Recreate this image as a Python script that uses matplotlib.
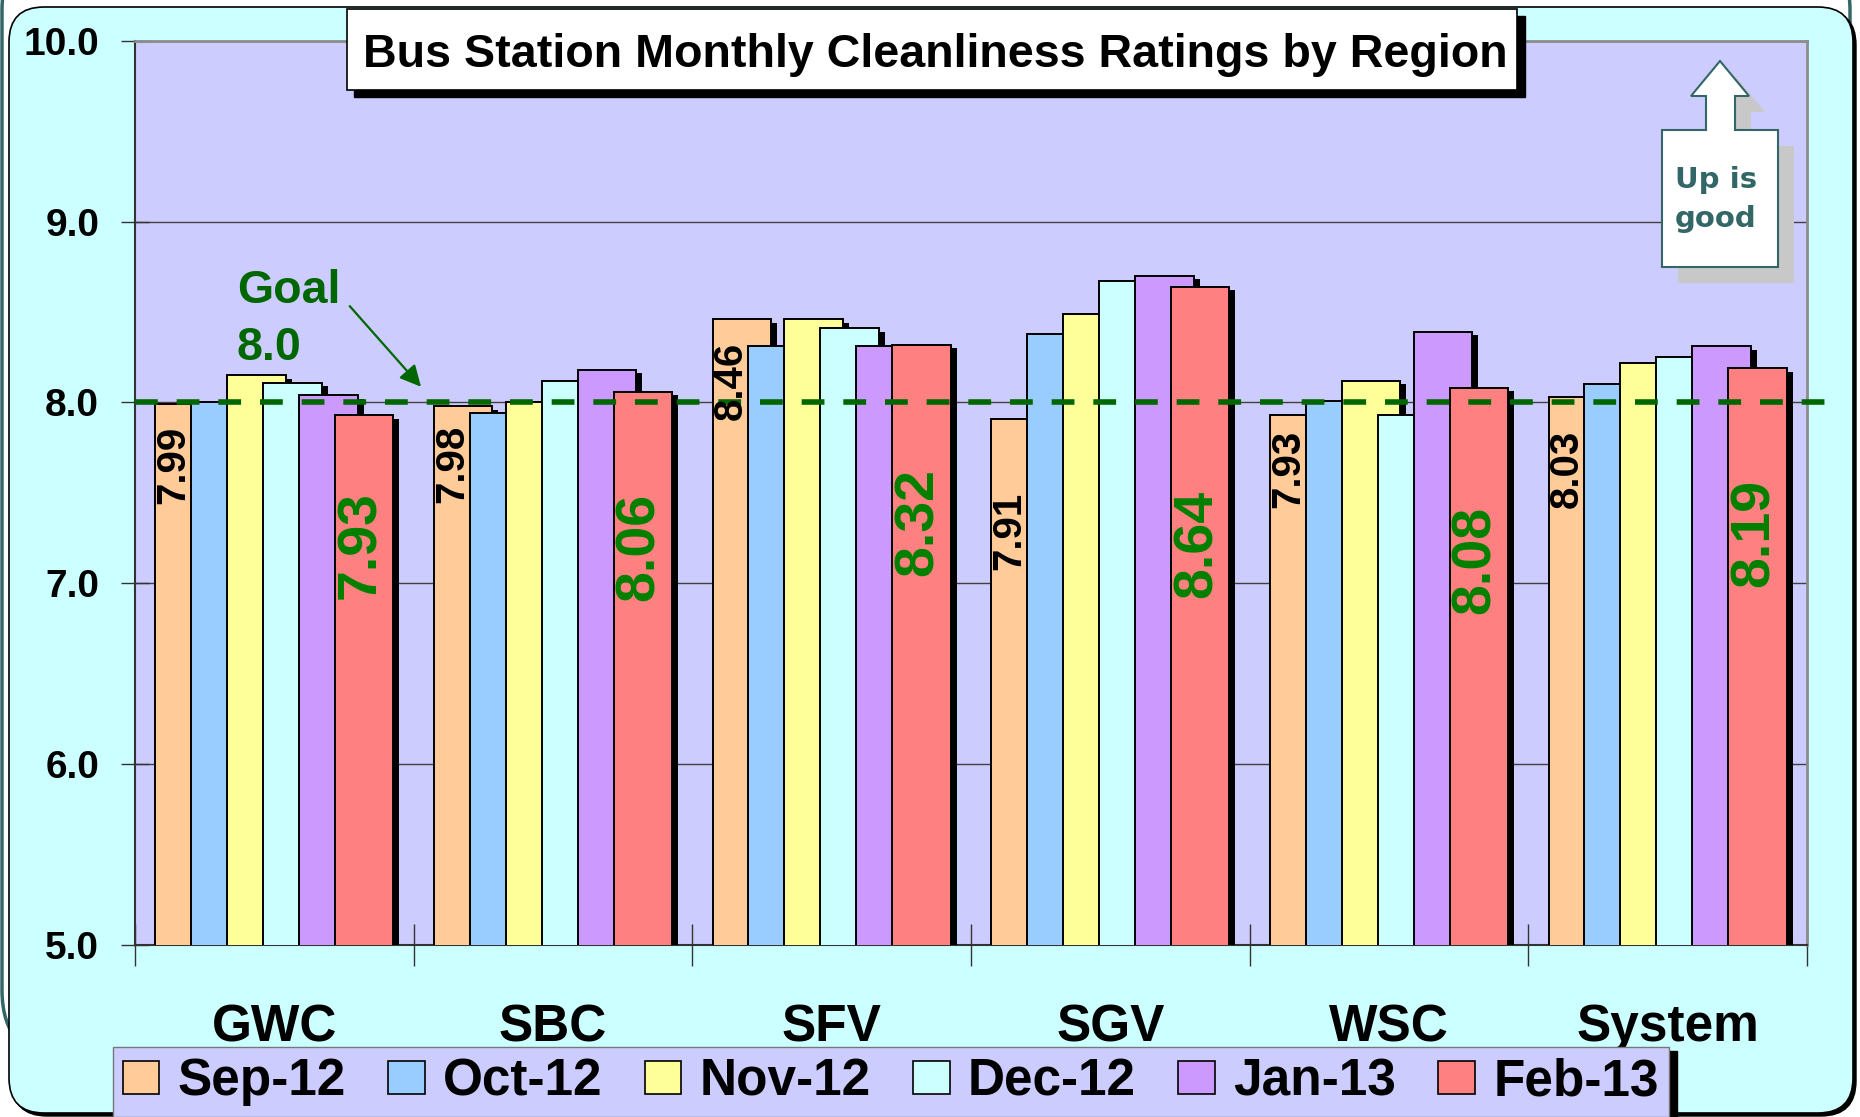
import numpy as np
import matplotlib.pyplot as plt
from matplotlib import transforms
from matplotlib.patches import Polygon, FancyBboxPatch, Rectangle, Patch

plt.rcParams['font.family'] = ['Liberation Sans', 'DejaVu Sans']
plt.rcParams['font.weight'] = 'bold'

regions = ["GWC", "SBC", "SFV", "SGV", "WSC", "System"]
months = ["Sep-12", "Oct-12", "Nov-12", "Dec-12", "Jan-13", "Feb-13"]

sep_12 = [7.99, 7.98, 8.46, 7.91, 7.93, 8.03]
oct_12 = [8.00, 7.94, 8.31, 8.38, 8.01, 8.10]
nov_12 = [8.15, 8.00, 8.46, 8.49, 8.12, 8.22]
dec_12 = [8.11, 8.12, 8.41, 8.67, 7.93, 8.25]
jan_13 = [8.04, 8.18, 8.31, 8.70, 8.39, 8.31]
feb_13 = [7.93, 8.06, 8.32, 8.64, 8.08, 8.19]
goal = 8.0

series = [sep_12, oct_12, nov_12, dec_12, jan_13, feb_13]
colors = ["#FFCC99", "#99CCFF", "#FFFF99", "#CCFFFF", "#CC99FF", "#FF8080"]

sep_label_top = [7.87, 7.875, 8.335, 7.505, 7.85, 7.85]
feb_label_mid = [7.21, 7.20, 7.34, 7.22, 7.13, 7.28]

W, H, DPI = 1860, 1117, 100
fig = plt.figure(figsize=(W / DPI, H / DPI), dpi=DPI, facecolor="white")
# pixel coords, origin top-left
PX = transforms.Affine2D().scale(1 / DPI, -1 / DPI).translate(0, H / DPI) + fig.dpi_scale_trans

# background panel
fig.patches.append(FancyBboxPatch((2, -60), 1848, 1120, boxstyle="round,pad=0,rounding_size=70",
                                  fc="none", ec="#336666", lw=2.5, transform=PX, zorder=-12))
fig.patches.append(FancyBboxPatch((12, 10), 1844, 1106, boxstyle="round,pad=0,rounding_size=35",
                                  fc="black", ec="black", lw=1, transform=PX, zorder=-11))
fig.patches.append(FancyBboxPatch((9, 7), 1844, 1106, boxstyle="round,pad=0,rounding_size=35",
                                  fc="#CCFFFF", ec="black", lw=1.2, transform=PX, zorder=-10))

ax = fig.add_axes([135 / W, 1 - 945 / H, 1672 / W, 904.3 / H])
ax.set_facecolor("#CCCCFF")

x = np.arange(len(regions))
step = 0.129
width = 0.21
shadow_tr = transforms.offset_copy(ax.transData, fig=fig, x=6, y=-3.5, units="dots")

for i, (vals, col) in enumerate(zip(series, colors)):
    pos = x + (i - 2.5) * step
    sh = ax.bar(pos, vals, width, color="black", lw=0, zorder=2 + 2 * i)
    for p in sh:
        p.set_transform(shadow_tr)
    ax.bar(pos, vals, width, color=col, edgecolor="black", lw=1.4, zorder=3 + 2 * i)

# value labels on the first and last month
sep_x = x - 2.5 * step - (width - step) / 2
feb_x = x + 2.5 * step - 0.01
for i in range(len(regions)):
    ax.text(sep_x[i], sep_label_top[i], f"{sep_12[i]:.2f}", rotation=90, ha="center", va="top",
            fontsize=29, fontweight="bold", color="black", zorder=30)
    ax.text(feb_x[i], feb_label_mid[i], f"{feb_13[i]:.2f}", rotation=90, ha="center", va="center",
            fontsize=40, fontweight="bold", color="#008000", zorder=30)

# goal line
ax.axhline(goal, xmin=0, xmax=1.012, color="#006600", lw=4, dashes=(4.1, 3.4),
           clip_on=False, zorder=25)
ax.text(-0.134, 8.549, "Goal", fontsize=33.5, fontweight="bold", color="#006600",
        ha="left", va="baseline", zorder=30)
ax.text(-0.134, 8.235, f"{goal:.1f}", fontsize=33.5, fontweight="bold", color="#006600",
        ha="left", va="baseline", zorder=30)
ax.annotate("", xy=(0.533, 8.075), xytext=(0.264, 8.544),
            arrowprops=dict(arrowstyle="-|>", color="#006600", lw=1.6, mutation_scale=32),
            zorder=30)

ax.set_xlim(-0.5, 5.5)
ax.set_ylim(5, 10)
ax.set_yticks(np.arange(5, 10.01, 1.0))
ax.set_yticklabels([f"{v:.1f}" for v in np.arange(5, 10.01, 1.0)], fontsize=28, fontweight="bold")
ax.tick_params(axis="y", direction="inout", length=19.5, width=1, color="#333333", pad=16)
ax.yaxis.grid(True, color="#404040", lw=1)
ax.set_axisbelow(True)

ax.set_xticks(np.arange(-0.5, 5.6, 1.0))
ax.set_xticklabels([])
ax.tick_params(axis="x", which="major", direction="inout", length=30, width=1, color="#333333")
ax.set_xticks(x, regions, minor=True)
ax.tick_params(axis="x", which="minor", length=0, pad=42, labelsize=37)
for t in ax.get_xticklabels(minor=True):
    t.set_fontweight("bold")

for s in ["left", "bottom"]:
    ax.spines[s].set_color("#333333")
    ax.spines[s].set_linewidth(1.5)
for s in ["top", "right"]:
    ax.spines[s].set_color("#8C8C8C")
    ax.spines[s].set_linewidth(2)

# title box
fig.patches.append(Rectangle((354, 16), 1171, 81, fc="black", ec="black", transform=PX, zorder=40))
fig.patches.append(Rectangle((347, 9.3), 1170, 80.7, fc="white", ec="black", lw=1.2, transform=PX, zorder=41))
fig.text(935, 66.7, "Bus Station Monthly Cleanliness Ratings by Region", transform=PX,
         ha="center", va="baseline", fontsize=33.6, fontweight="bold", color="black", zorder=42)

# "Up is good" callout
arrow_pts = np.array([(1662, 267), (1662, 130), (1706, 130), (1706, 96), (1691, 96), (1720, 61),
                      (1749, 96), (1735, 96), (1735, 130), (1778, 130), (1778, 267)])
fig.patches.append(Polygon(arrow_pts + [16, 16], closed=True, fc="#C8C8C8", ec="none",
                           transform=PX, zorder=40))
fig.patches.append(Polygon(arrow_pts, closed=True, fc="white", ec="#336666", lw=1.5,
                           transform=PX, zorder=41))
fig.text(1716, 188, "Up is", transform=PX, ha="center", va="baseline", fontsize=21,
         family="DejaVu Sans", fontweight="bold", color="#336666", zorder=42)
fig.text(1716, 227, "good", transform=PX, ha="center", va="baseline", fontsize=21,
         family="DejaVu Sans", fontweight="bold", color="#336666", zorder=42)

# legend
handles = [Patch(fc=c, ec="black", lw=1.2) for c in colors]
leg = fig.legend(handles, months, loc="upper left", bbox_to_anchor=(112.5 / W, 1 - 1047 / H),
                 ncol=6, fontsize=37, prop={"weight": "bold", "size": 37},
                 handlelength=0.71, handleheight=0.62, handletextpad=0.36, columnspacing=0.82,
                 borderpad=0.2, borderaxespad=0, fancybox=False, framealpha=1,
                 facecolor="#CCCCFF", edgecolor="#777777",
                 shadow={"ox": 6, "oy": -3, "color": "black", "alpha": 1})

fig.savefig("out.png", dpi=DPI)
plt.close(fig)
